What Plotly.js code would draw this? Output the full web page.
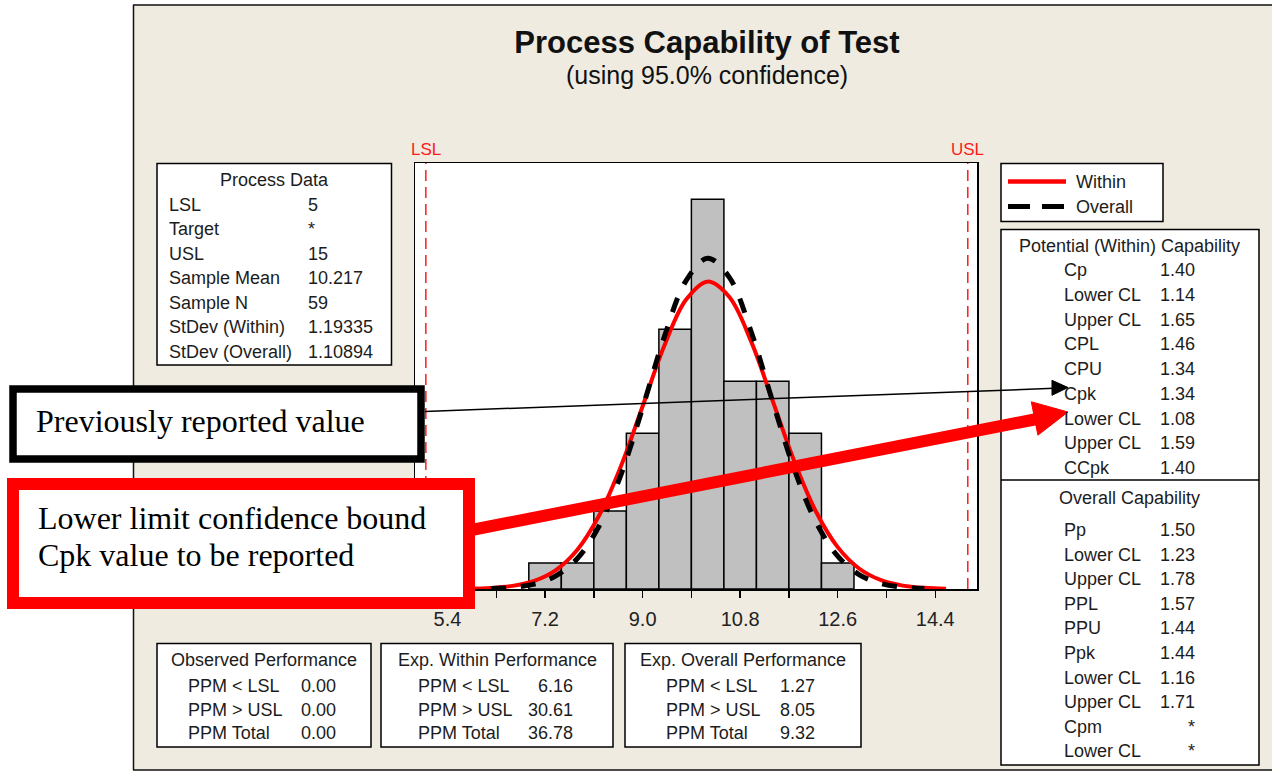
<!DOCTYPE html>
<html><head><meta charset="utf-8">
<script src="https://cdn.plot.ly/plotly-3.0.1.min.js"></script>
<style>html,body{margin:0;padding:0;background:#fff;} #chart{width:1272px;height:772px;}</style>
</head><body><div id="chart"></div>
<script>
// ---------------- DATA ----------------
const binCenters = [7.2, 7.8, 8.4, 9.0, 9.6, 10.2, 10.8, 11.4, 12.0, 12.6];
const binCounts  = [1, 1, 3, 6, 10, 15, 8, 8, 6, 1];

const withinX = [5.8, 6.2, 6.6, 7.0, 7.4, 7.8, 8.2, 8.6, 9.0, 9.4, 9.8, 10.2, 10.6, 11.0, 11.4, 11.8, 12.2, 12.6, 13.0, 13.4, 13.8, 14.2, 14.6];
const withinY = [0.013, 0.041, 0.120, 0.313, 0.729, 1.522, 2.837, 4.725, 7.036, 9.362, 11.133, 11.833, 11.240, 9.543, 7.240, 4.910, 2.975, 1.612, 0.780, 0.338, 0.131, 0.045, 0.014];

const overallX = [6.2, 6.6, 7.0, 7.4, 7.8, 8.2, 8.6, 9.0, 9.4, 9.8, 10.2, 10.6, 11.0, 11.4, 11.8, 12.2, 12.6, 13.0, 13.4, 13.8, 14.2];
const overallY = [0.018, 0.062, 0.189, 0.506, 1.184, 2.436, 4.398, 6.974, 9.708, 11.865, 12.734, 11.998, 9.924, 7.209, 4.597, 2.574, 1.265, 0.546, 0.207, 0.069, 0.020];

const specValues = [5, 15];
const specNames  = ['LSL', 'USL'];

const tickVals = [5.4, 6.3, 7.2, 8.1, 9.0, 9.9, 10.8, 11.7, 12.6, 13.5, 14.4];
const tickText = ['5.4', '', '7.2', '', '9.0', '', '10.8', '', '12.6', '', '14.4'];

const processLabels = ['LSL', 'Target', 'USL', 'Sample Mean', 'Sample N', 'StDev (Within)', 'StDev (Overall)'];
const processValues = ['5', '*', '15', '10.217', '59', '1.19335', '1.10894'];

const potentialLabels = ['Cp', 'Lower CL', 'Upper CL', 'CPL', 'CPU', 'Cpk', 'Lower CL', 'Upper CL', 'CCpk'];
const potentialValues = ['1.40', '1.14', '1.65', '1.46', '1.34', '1.34', '1.08', '1.59', '1.40'];

const overallCapLabels = ['Pp', 'Lower CL', 'Upper CL', 'PPL', 'PPU', 'Ppk', 'Lower CL', 'Upper CL', 'Cpm', 'Lower CL'];
const overallCapValues = ['1.50', '1.23', '1.78', '1.57', '1.44', '1.44', '1.16', '1.71', '*', '*'];

const ppmLabels        = ['PPM < LSL', 'PPM > USL', 'PPM Total'];
const observedValues   = ['0.00', '0.00', '0.00'];
const expWithinValues  = ['6.16', '30.61', '36.78'];
const expOverallValues = ['1.27', '8.05', '9.32'];

const legendNames = ['Within', 'Overall'];
const calloutBlack = 'Previously reported value';
const calloutRed = ['Lower limit confidence bound', 'Cpk value to be reported'];

// ---------------- LAYOUT HELPERS ----------------
const W = 1272, H = 772, L = 415, R = 977, T = 163, B = 589;
const px = v => (v - L) / (R - L);
const py = v => (B - v) / (B - T);
const SANS = 'Liberation Sans, Arial, sans-serif';
const SERIF = 'Liberation Serif, Times New Roman, serif';
const TXT = '#1c1c1c';
const TS = 18;

const shapes = [];
const ann = [];

function rect(x0, y0, x1, y1, o) {
  o = o || {};
  shapes.push({type: 'rect', xref: 'paper', yref: 'paper', x0: px(x0), x1: px(x1), y0: py(y1), y1: py(y0),
    fillcolor: o.fill || 'rgba(0,0,0,0)', line: {color: o.color || '#000', width: o.width === undefined ? 1.5 : o.width},
    layer: o.layer || 'above'});
}
function line(x0, y0, x1, y1, o) {
  o = o || {};
  shapes.push({type: 'line', xref: 'paper', yref: 'paper', x0: px(x0), x1: px(x1), y0: py(y0), y1: py(y1),
    line: {color: o.color || '#000', width: o.width || 1.5, dash: o.dash || 'solid'}, layer: o.layer || 'above'});
}
function tri(pts, color) {
  const p = pts.map((q, i) => (i ? 'L' : 'M') + px(q[0]).toFixed(5) + ',' + py(q[1]).toFixed(5)).join(' ') + ' Z';
  shapes.push({type: 'path', xref: 'paper', yref: 'paper', path: p, fillcolor: color, line: {color: color, width: 1}, layer: 'above'});
}
function text(x, y, s, o) {
  o = o || {};
  ann.push({xref: 'paper', yref: 'paper', x: px(x), y: py(y), text: s, showarrow: false,
    xanchor: o.anchor || 'left', yanchor: 'middle',
    font: {family: o.family || SANS, size: o.size || TS, color: o.color || TXT}});
}

// ---------------- BACKGROUND PANEL ----------------
rect(-2, -2, 133.5, H + 2, {fill: '#ffffff', width: 0, layer: 'below'});
rect(-2, -2, W + 2, 4.5, {fill: '#ffffff', width: 0, layer: 'below'});
rect(-2, 770.5, W + 2, H + 2, {fill: '#ffffff', width: 0, layer: 'below'});
line(133.5, 5, 133.5, 770, {color: '#111', width: 1.5, layer: 'below'});
line(133, 5, W + 2, 5, {color: '#111', width: 1.5, layer: 'below'});
line(133, 770, W + 2, 770, {color: '#111', width: 1.5, layer: 'below'});

// ---------------- SPEC LIMIT LINES ----------------
specValues.forEach((v, i) => {
  shapes.push({type: 'line', xref: 'x', yref: 'paper', x0: v, x1: v, y0: 0, y1: 1,
    line: {color: '#ff1a1a', width: 1.5, dash: '11px,6px'}, layer: 'above'});
  ann.push({xref: 'x', yref: 'paper', x: v, y: py(150), text: specNames[i], showarrow: false,
    xanchor: 'center', yanchor: 'middle', font: {family: SANS, size: 17, color: '#ff1a1a'}});
});

// ---------------- PROCESS DATA BOX ----------------
rect(157, 163.5, 391.5, 365, {fill: '#fff'});
text(274, 180, 'Process Data', {anchor: 'center'});
processLabels.forEach((s, i) => {
  const y = 204.5 + i * 24.5;
  text(167, y, s);
  text(306, y, processValues[i]);
});

// ---------------- LEGEND BOX ----------------
rect(1001, 163.5, 1163, 221.5, {fill: '#fff'});
line(1008, 181.5, 1066, 181.5, {color: '#ff0000', width: 4.5});
line(1008, 206.5, 1064, 206.5, {color: '#000', width: 5, dash: '22px,12px'});
text(1074, 181.5, legendNames[0]);
text(1074, 206.5, legendNames[1]);

// ---------------- CAPABILITY BOX ----------------
rect(1001, 229.5, 1259, 765, {fill: '#fff'});
line(1001, 480, 1259, 480, {width: 1.5});
text(1129, 246, 'Potential (Within) Capability', {anchor: 'center'});
potentialLabels.forEach((s, i) => {
  const y = 270 + i * 24.75;
  text(1062, y, s);
  text(1197, y, potentialValues[i], {anchor: 'right'});
});
text(1129, 498, 'Overall Capability', {anchor: 'center'});
overallCapLabels.forEach((s, i) => {
  const y = 530 + i * 24.6;
  text(1062, y, s);
  text(1197, y, overallCapValues[i], {anchor: 'right'});
});

// ---------------- PERFORMANCE BOXES ----------------
const perfBoxes = [
  {x0: 157, x1: 371, title: 'Observed Performance', lx: 186, vx: 338, vals: observedValues},
  {x0: 381, x1: 613, title: 'Exp. Within Performance', lx: 416, vx: 575, vals: expWithinValues},
  {x0: 625, x1: 861, title: 'Exp. Overall Performance', lx: 664, vx: 817, vals: expOverallValues}
];
perfBoxes.forEach(b => {
  rect(b.x0, 643.5, b.x1, 747, {fill: '#fff'});
  text((b.x0 + b.x1) / 2, 660, b.title, {anchor: 'center'});
  ppmLabels.forEach((s, i) => {
    const y = 686 + i * 23.7;
    text(b.lx, y, s);
    text(b.vx, y, b.vals[i], {anchor: 'right'});
  });
});

// ---------------- CALLOUTS ----------------
rect(13, 389, 421, 459, {fill: '#fff', color: '#000', width: 7.5});
text(34, 421, calloutBlack, {family: SERIF, size: 32, color: '#000'});
rect(13, 484, 469, 603, {fill: '#fff', color: '#ff0000', width: 12});
text(36, 518, calloutRed[0], {family: SERIF, size: 32, color: '#000'});
text(36, 555, calloutRed[1], {family: SERIF, size: 32, color: '#000'});

// black arrow
line(425, 411.5, 1054, 388.3, {color: '#000', width: 1.5});
tri([[1068, 387.5], [1052, 380.3], [1052, 395.3]], '#000');
// red arrow
line(469, 530.5, 1037, 419, {color: '#ff0000', width: 12});
tri([[1068, 412], [1031.3, 401.8], [1037.9, 435.2]], '#ff0000');

// subtitle
text(707, 75, '(using 95.0% confidence)', {anchor: 'center', size: 25, color: '#111'});

// ---------------- TRACES ----------------
const traces = [
  {type: 'bar', x: binCenters, y: binCounts, width: 0.6, name: 'Test',
    marker: {color: '#c0c0c0', line: {color: '#000', width: 1.5}}, hoverinfo: 'x+y', showlegend: false},
  {type: 'scatter', mode: 'lines', x: withinX, y: withinY, name: legendNames[0],
    line: {color: '#ff0000', width: 4, shape: 'spline'}, showlegend: false},
  {type: 'scatter', mode: 'lines', x: overallX, y: overallY, name: legendNames[1],
    line: {color: '#000', width: 5, dash: 'dash', shape: 'spline'}, showlegend: false}
];

const layout = {
  width: W, height: H,
  margin: {l: L, r: W - R, t: T, b: H - B, pad: 0},
  paper_bgcolor: '#efebe1',
  plot_bgcolor: '#ffffff',
  showlegend: false,
  title: {text: '<b>Process Capability of Test</b>', x: 707 / W, xanchor: 'center', xref: 'container',
    y: 1 - 42 / H, yanchor: 'middle', yref: 'container', font: {family: SANS, size: 31, color: '#111'}},
  xaxis: {range: [4.8, 15.17], tickmode: 'array', tickvals: tickVals, ticktext: tickText,
    ticks: 'outside', ticklen: 7, tickwidth: 1.5, tickcolor: '#000', ticklabelstandoff: 4,
    showline: true, mirror: true, linecolor: '#000', linewidth: 1.5,
    showgrid: false, zeroline: false, fixedrange: true,
    tickfont: {family: SANS, size: 20, color: '#222'}},
  yaxis: {range: [0, 16.4], showticklabels: false, ticks: '', showline: true, mirror: true,
    linecolor: '#000', linewidth: 1.5, showgrid: false, zeroline: false, fixedrange: true},
  shapes: shapes,
  annotations: ann
};

Plotly.newPlot('chart', traces, layout, {displayModeBar: false, staticPlot: true});
</script>
</body></html>
